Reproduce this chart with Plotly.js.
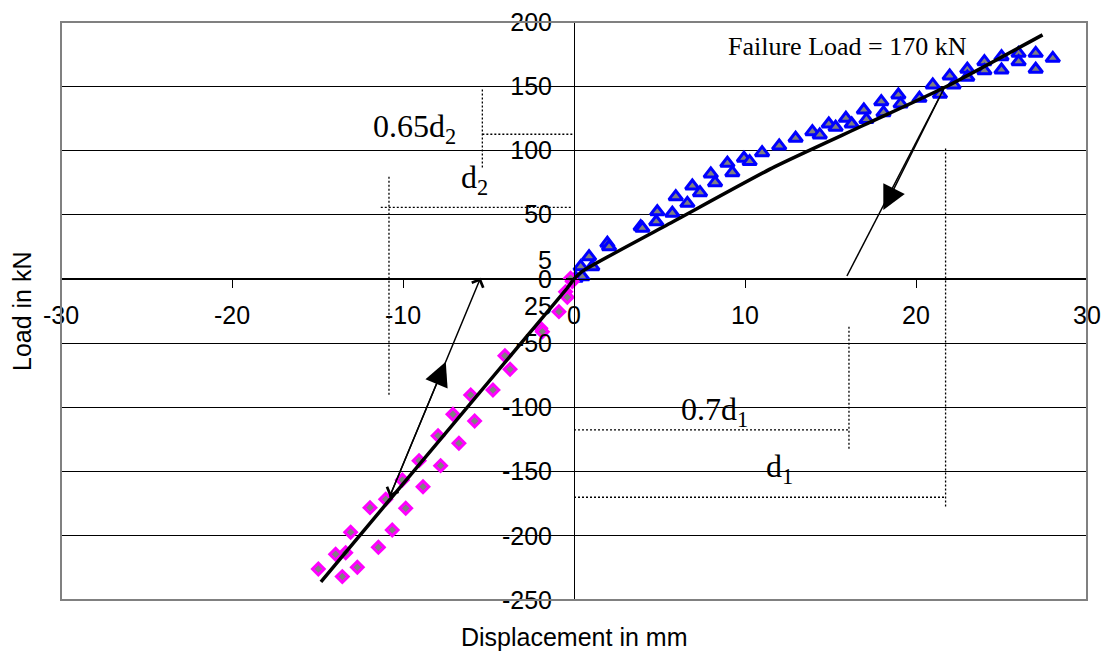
<!DOCTYPE html>
<html>
<head>
<meta charset="utf-8">
<script src="https://cdn.plot.ly/plotly-3.0.1.min.js"></script>
<style>html,body{margin:0;padding:0;background:#fff;}#chart{width:1107px;height:656px;}</style>
</head>
<body>
<div id="chart"></div>
<script>
// Positive loading (triangles)
var posX = [0.1,0.39,0.49,0.88,1.07,1.95,2.05,3.9,4.0,4.87,4.81,5.75,5.95,6.63,6.92,7.37,8.0,8.25,8.97,9.26,9.94,10.27,11.0,12.0,12.96,13.94,14.37,14.9,15.3,15.9,16.24,16.95,17.1,17.97,18.1,18.97,19.1,20.2,20.98,21.4,21.97,22.2,23.0,23.0,24.0,24.0,25.0,25.0,26.0,26.0,27.0,27.0,28.0];
var posY = [0.5,9.5,1.7,17.3,9.5,27.7,25,40.6,39.4,52.3,44.5,51.1,64.0,58.8,72.3,67.1,81.7,74.9,90.0,82.7,93.9,91.3,98.3,103.5,109.5,114.6,112.1,120.6,118,125,120.6,131.5,124,138,129.4,143.2,136.2,140.6,151,143.7,158,151,163.2,157,169.1,162.1,173,162.6,175.6,169.1,175.6,163.2,171.7];
// Negative loading (diamonds)
var negX = [-0.1,-0.2,-0.49,-0.39,-0.88,-1.95,-1.85,-4.04,-3.74,-4.74,-6.04,-5.81,-7.08,-6.73,-7.95,-7.8,-9.06,-8.83,-10.04,-11.01,-9.84,-11.93,-10.63,-13.06,-11.44,-13.35,-13.94,-12.67,-14.95,-13.55];
var negY = [-2,0.5,-10.0,-14.3,-25.5,-38.5,-41.1,-59.8,-70.4,-86.5,-90.4,-110.6,-105.4,-128,-122.1,-145.4,-141.5,-161.8,-156.6,-171.6,-178.6,-178.1,-195.5,-197.3,-209,-213.2,-214.4,-224.5,-225.9,-231.8];
// Idealised curves
var posFitX = [0,0.5,6,11.75,17,21.75,27.4];
var posFitY = [0,6,46,87.4,120,149.6,190];
var negFitX = [0,-0.4,-14.8];
var negFitY = [0,-7.3,-235.8];
// Unloading line
var unloadX = [15.96,21.64];
var unloadY = [2.26,148.4];
// Guide lines (dotted)
var g065hX = [-5.36,0], g065hY = [112.6,112.6];
var g065vX = [-5.36,-5.36], g065vY = [147.5,86.1];
var gd2hX = [-11.3,-0.1], gd2hY = [55.7,55.7];
var gd2vX = [-10.82,-10.82], gd2vY = [79.6,-91.7];
var g07hX = [0,16.08], g07hY = [-117.5,-117.5];
var g07vX = [16.08,16.08], g07vY = [-37.3,-133.4];
var gd1hX = [0,21.73], gd1hY = [-170,-170];
var gd1vX = [21.73,21.73], gd1vY = [101.6,-177.4];

var xTicks = [-30,-20,-10,0,10,20,30];
var yTicks = [-250,-200,-150,-100,-50,0,50,100,150,200];

var sans = 'Liberation Sans, Arial, sans-serif';
var serif = 'Liberation Serif, Times New Roman, serif';

function dotted(x, y) {
  return {x: x, y: y, type: 'scatter', mode: 'lines', hoverinfo: 'skip',
    line: {color: '#000', width: 1.3, dash: '2px,2px'}, showlegend: false};
}

var traces = [
  dotted(g065hX, g065hY), dotted(g065vX, g065vY),
  dotted(gd2hX, gd2hY), dotted(gd2vX, gd2vY),
  dotted(g07hX, g07hY), dotted(g07vX, g07vY),
  dotted(gd1hX, gd1hY), dotted(gd1vX, gd1vY),
  {x: unloadX, y: unloadY, type: 'scatter', mode: 'lines', line: {color: '#000', width: 1.5}, showlegend: false},
  {x: posX, y: posY, type: 'scatter', mode: 'markers', showlegend: false,
    marker: {symbol: 'triangle-up', size: 12, color: '#808080', line: {color: '#0000ff', width: 3}}},
  {x: negX, y: negY, type: 'scatter', mode: 'markers', showlegend: false,
    marker: {symbol: 'diamond', size: 9, color: '#808080', line: {color: '#ff00ff', width: 3}}},
  {x: posFitX, y: posFitY, type: 'scatter', mode: 'lines', line: {color: '#000', width: 3.5, shape: 'spline', smoothing: 0.6}, showlegend: false},
  {x: negFitX, y: negFitY, type: 'scatter', mode: 'lines', line: {color: '#000', width: 3.5}, showlegend: false}
];

var annotations = [
  {x: 16.02, y: 181.3, xref: 'x', yref: 'y', text: 'Failure Load = 170 kN', showarrow: false,
    font: {family: serif, size: 26, color: '#000'}},
  {x: -9.3, y: 117.4, xref: 'x', yref: 'y', text: '0.65d<sub>2</sub>', showarrow: false,
    font: {family: serif, size: 32, color: '#000'}},
  {x: -5.79, y: 77, xref: 'x', yref: 'y', text: 'd<sub>2</sub>', showarrow: false,
    font: {family: serif, size: 32, color: '#000'}},
  {x: 8.23, y: -103.6, xref: 'x', yref: 'y', text: '0.7d<sub>1</sub>', showarrow: false,
    font: {family: serif, size: 32, color: '#000'}},
  {x: 11.99, y: -148, xref: 'x', yref: 'y', text: 'd<sub>1</sub>', showarrow: false,
    font: {family: serif, size: 32, color: '#000'}},
  {x: -1.7, y: 15, xref: 'x', yref: 'y', text: '5', showarrow: false,
    font: {family: sans, size: 25, color: '#000'}},
  {x: -2.1, y: -21, xref: 'x', yref: 'y', text: '25', showarrow: false,
    font: {family: sans, size: 25, color: '#000'}},
  // axis titles
  {x: 0.5, y: 0, xref: 'paper', yref: 'paper', xanchor: 'center', yanchor: 'middle', yshift: -37,
    text: 'Displacement in mm', showarrow: false, font: {family: sans, size: 25, color: '#000'}},
  {x: 0, y: 0.5, xref: 'paper', yref: 'paper', xanchor: 'center', yanchor: 'middle', xshift: -39,
    text: 'Load in kN', textangle: -90, showarrow: false, font: {family: sans, size: 25, color: '#000'}},
  // arrows
  {x: 18.09, y: 53.6, ax: 21.64, ay: 148.4, xref: 'x', yref: 'y', axref: 'x', ayref: 'y', text: '',
    showarrow: true, arrowhead: 2, arrowsize: 3.2, arrowwidth: 1.5, arrowcolor: '#000', standoff: 0},
  {x: -5.46, y: 0.9, ax: -10.82, ay: -170.8, xref: 'x', yref: 'y', axref: 'x', ayref: 'y', text: '',
    showarrow: true, arrowside: 'end+start', arrowhead: 4, startarrowhead: 4, arrowsize: 1.6, startarrowsize: 1.6,
    arrowwidth: 1.5, arrowcolor: '#000', standoff: 0, startstandoff: 0},
  {x: -7.5, y: -64.5, ax: -10.82, ay: -170.8, xref: 'x', yref: 'y', axref: 'x', ayref: 'y', text: '',
    showarrow: true, arrowhead: 2, arrowsize: 3.2, arrowwidth: 1.5, arrowcolor: '#000', standoff: 0}
];

var layout = {
  width: 1107, height: 656,
  margin: {l: 61, r: 20, t: 22, b: 56},
  paper_bgcolor: '#fff', plot_bgcolor: '#fff',
  showlegend: false,
  xaxis: {range: [-30, 30], tickvals: xTicks, ticktext: xTicks.map(String), anchor: 'free', position: 250/450,
    showline: true, linecolor: '#000', linewidth: 1, ticks: 'outside', ticklen: 8, tickcolor: '#000', tickwidth: 1,
    showgrid: false, zeroline: false, ticklabelstandoff: 6,
    tickfont: {family: sans, size: 25, color: '#000'}},
  yaxis: {range: [-250, 200], tickvals: yTicks, ticktext: yTicks.map(String), anchor: 'free', position: 0.5,
    showline: true, linecolor: '#000', linewidth: 1, ticks: 'outside', ticklen: 8, tickcolor: '#000', tickwidth: 1,
    showgrid: true, gridcolor: '#000', gridwidth: 1, zeroline: false, ticklabelstandoff: 9,
    tickfont: {family: sans, size: 25, color: '#000'}},
  shapes: [
    {type: 'rect', xref: 'paper', yref: 'paper', x0: 0, x1: 1, y0: 0, y1: 1, line: {color: '#808080', width: 2}, layer: 'above'}
  ],
  annotations: annotations
};

Plotly.newPlot('chart', traces, layout, {displayModeBar: false, staticPlot: true});
</script>
</body>
</html>
